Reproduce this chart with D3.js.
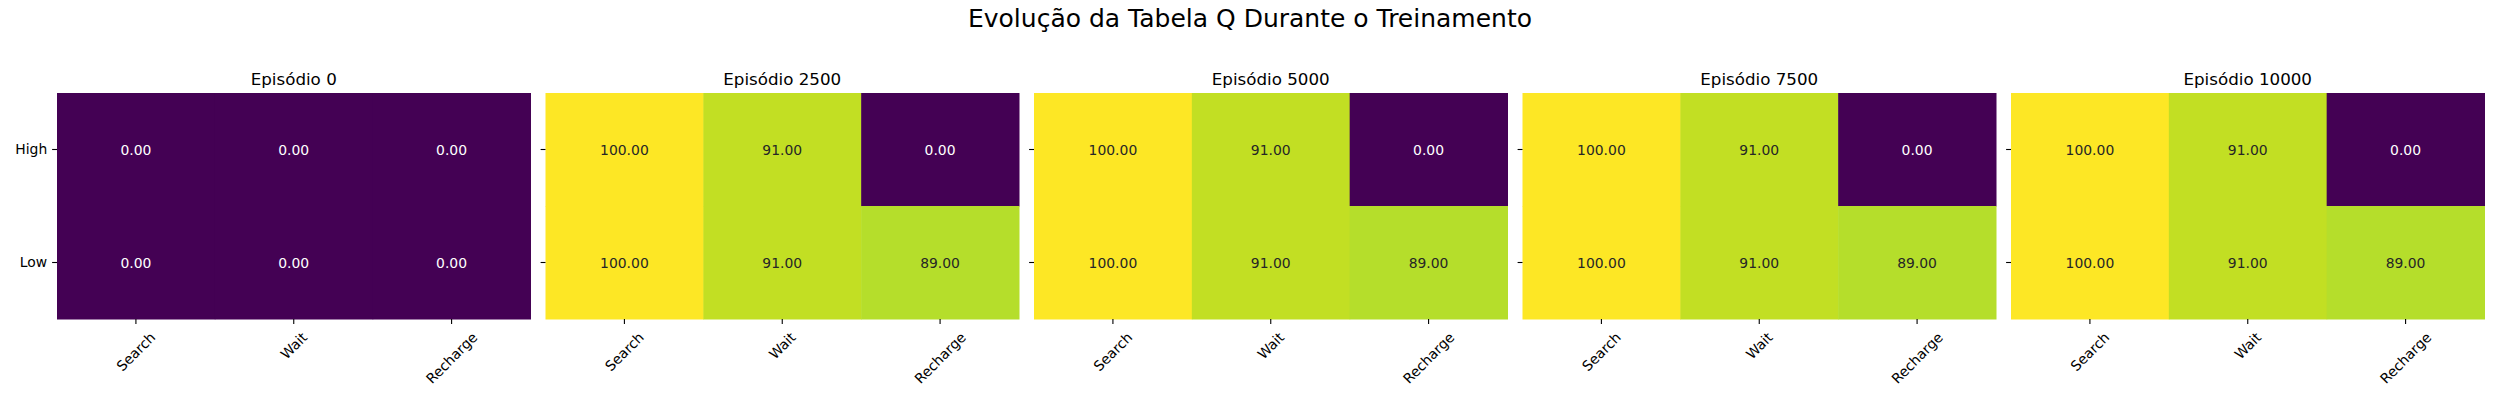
<!DOCTYPE html>
<html>
<head>
<meta charset="utf-8">
<script src="https://cdn.jsdelivr.net/npm/d3@7"></script>
<style>
  body { margin: 0; background: #fff; }
  svg text { font-family: "DejaVu Sans", sans-serif; }
</style>
</head>
<body>
<svg id="chart" width="2500" height="400"></svg>
<script>
const figTitle = "Evolução da Tabela Q Durante o Treinamento";
const episodes = [0, 2500, 5000, 7500, 10000];
const states = ["High", "Low"];
const actions = ["Search", "Wait", "Recharge"];
// Q values per episode: rows = states, columns = actions
const q0     = [[0, 0, 0], [0, 0, 0]];
const q2500  = [[100, 91, 0], [100, 91, 89]];
const q5000  = [[100, 91, 0], [100, 91, 89]];
const q7500  = [[100, 91, 0], [100, 91, 89]];
const q10000 = [[100, 91, 0], [100, 91, 89]];
const qTables = [q0, q2500, q5000, q7500, q10000];

const svg = d3.select("#chart");
const W = 2500;
const panelLeft0 = 57, panelStep = 488.5, panelW = 473.5;
const plotTop = 93, plotBottom = 319;

svg.append("text")
  .attr("x", W / 2).attr("y", 27)
  .attr("text-anchor", "middle")
  .attr("font-size", 25)
  .attr("fill", "#000")
  .text(figTitle);

const panelX = d3.scaleLinear().domain([0, 1]).range([panelLeft0, panelLeft0 + panelStep]);

function lum(c) {
  const rgb = d3.rgb(c);
  const f = v => { v /= 255; return v <= 0.03928 ? v / 12.92 : Math.pow((v + 0.055) / 1.055, 2.4); };
  return 0.2126 * f(rgb.r) + 0.7152 * f(rgb.g) + 0.0722 * f(rgb.b);
}

episodes.forEach((ep, i) => {
  const table = qTables[i];
  const x0 = panelX(i);
  const g = svg.append("g");
  const x = d3.scaleBand().domain(actions).range([x0, x0 + panelW]);
  const y = d3.scaleBand().domain(states).range([plotTop, plotBottom]);
  const flat = table.flat();
  const vmin = d3.min(flat), vmax = d3.max(flat);
  const color = d3.scaleSequential(d3.interpolateViridis).domain([vmin, vmax === vmin ? vmin + 1 : vmax]);

  const cells = [];
  states.forEach((s, r) => actions.forEach((a, c) => cells.push({ s, a, v: table[r][c] })));

  g.selectAll("rect").data(cells).join("rect")
    .attr("x", d => x(d.a)).attr("y", d => y(d.s))
    .attr("width", x.bandwidth() + 0.5).attr("height", y.bandwidth() + 0.5)
    .attr("fill", d => color(d.v));

  g.selectAll("text.ann").data(cells).join("text")
    .attr("class", "ann")
    .attr("x", d => x(d.a) + x.bandwidth() / 2)
    .attr("y", d => y(d.s) + y.bandwidth() / 2)
    .attr("text-anchor", "middle")
    .attr("dominant-baseline", "central")
    .attr("font-size", 13.9)
    .attr("fill", d => lum(color(d.v)) > 0.408 ? "#262626" : "#ffffff")
    .text(d => d3.format(".2f")(d.v));

  // subplot title
  g.append("text")
    .attr("x", x0 + panelW / 2).attr("y", 84.5)
    .attr("text-anchor", "middle")
    .attr("font-size", 16.7)
    .attr("fill", "#000")
    .text("Episódio " + ep);

  // y axis ticks
  const yAxis = d3.axisLeft(y).tickSize(4.9).tickPadding(4.9);
  if (i > 0) yAxis.tickFormat("");
  const ya = g.append("g").attr("transform", `translate(${x0},0)`).call(yAxis);
  ya.select(".domain").remove();
  ya.selectAll("line").attr("stroke", "#000").attr("stroke-width", 1.1);
  ya.selectAll("text").attr("font-size", 13.9).attr("fill", "#000")
    .attr("font-family", "DejaVu Sans, sans-serif");

  // x axis ticks
  const xAxis = d3.axisBottom(x).tickSize(4.9).tickPadding(0);
  const xa = g.append("g").attr("transform", `translate(0,${plotBottom})`).call(xAxis);
  xa.select(".domain").remove();
  xa.selectAll("line").attr("stroke", "#000").attr("stroke-width", 1.1);
  xa.selectAll("text")
    .attr("font-size", 13.9).attr("fill", "#000")
    .attr("font-family", "DejaVu Sans, sans-serif")
    .attr("dy", null)
    .attr("y", 0)
    .attr("text-anchor", "middle")
    .attr("dominant-baseline", "central")
    .each(function () {
      const t = d3.select(this);
      const w = this.getComputedTextLength();
      const h = 13.9 * 1.0;
      const half = (w + h) / Math.SQRT2 / 2;
      t.attr("transform", `translate(0,${4.9 + 6 + half}) rotate(-45)`);
    });
});
</script>
</body>
</html>
